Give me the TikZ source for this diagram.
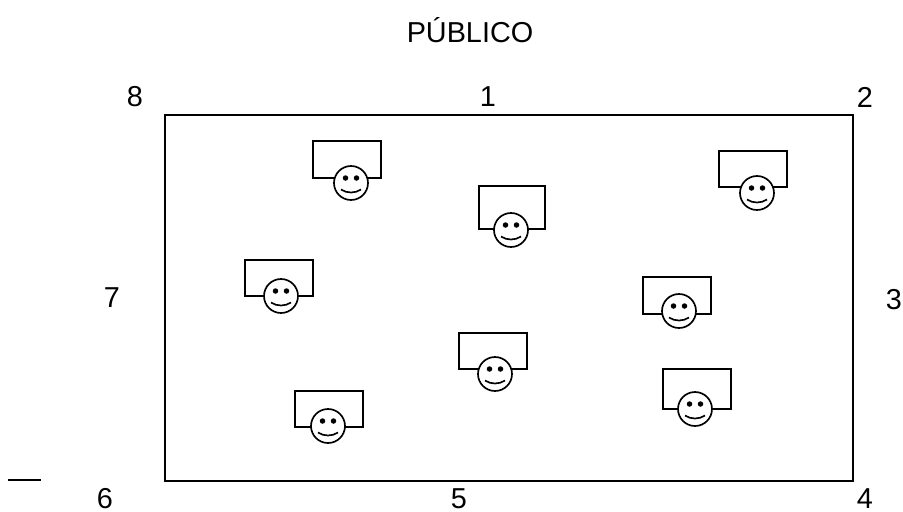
\documentclass[tikz,border=0pt]{standalone}
\usepackage{fontspec}
\setmainfont{Liberation Sans}
\tikzset{
	rotulo/.style={font=\fontsize{16.4}{18}\selectfont,inner sep=0pt},
	traco/.style={line width=0.95pt,black}
}
\begin{document}
\begin{tikzpicture}[x=0.02cm,y=-0.02cm]
\useasboundingbox (0,0) rectangle (903,511);

%palco
\draw [traco] (165,115) rectangle (853,481);
\draw [traco] (8,480) -- (41,480);

%textos
\node[rotulo] (publico) at (470,30) {PÚBLICO};
\node[rotulo] (n8) at (135,97) {8};
\node[rotulo] (n1) at (488,97) {1};
\node[rotulo] (n2) at (865,97) {2};
\node[rotulo] (n7) at (112,298) {7};
\node[rotulo] (n3) at (894,300) {3};
\node[rotulo] (n6) at (105,499) {6};
\node[rotulo] (n5) at (459,499) {5};
\node[rotulo] (n4) at (865,499) {4};

%mesas e rostos: canto esq, topo, canto dir, base, centro do rosto
\foreach \xa/\ya/\xb/\yb/\xc/\yc in {
	313/141/381/178/351/183,
	479/186/545/229/511/230,
	719/151/787/187/757/193,
	245/260/313/296/281/296,
	643/277/711/314/679/311,
	459/333/527/369/495/374,
	295/391/363/427/328/426,
	663/369/731/409/695/409}
{
	\draw [traco] (\xa,\ya) rectangle (\xb,\yb);
	\draw [traco,fill=white] (\xc,\yc) circle (0.34cm);
	\fill (\xc-5.5,\yc-5) circle (0.055cm);
	\fill (\xc+5.5,\yc-5) circle (0.055cm);
	\draw [traco] (\xc-10,\yc+6.5) .. controls (\xc-4,\yc+10.5) and (\xc+4,\yc+10.5) .. (\xc+10,\yc+6.5);
}
\end{tikzpicture}
\end{document}
